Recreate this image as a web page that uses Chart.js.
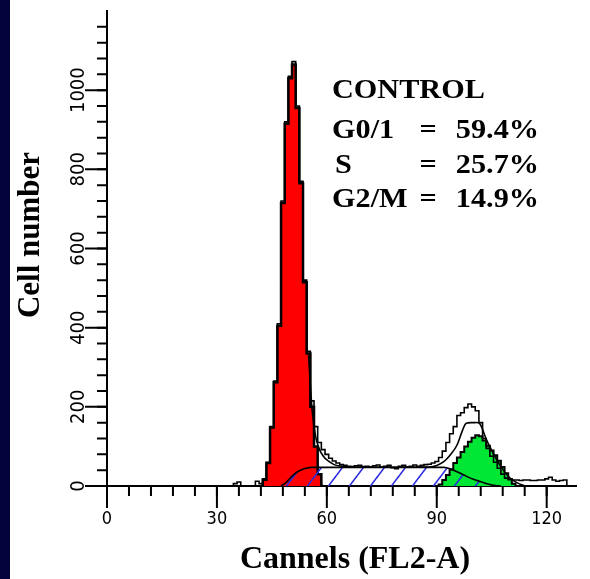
<!DOCTYPE html>
<html>
<head>
<meta charset="utf-8">
<script src="https://cdn.jsdelivr.net/npm/chart.js@4.4.0/dist/chart.umd.min.js"></script>
<style>
  html, body { margin: 0; padding: 0; background: #fff; }
  #wrap { position: relative; width: 590px; height: 579px; }
  #strip { position: absolute; left: 0; top: 0; width: 10px; height: 579px; background: #04043a; }
</style>
</head>
<body>
<div id="wrap">
  <canvas id="chart" width="590" height="579"></canvas>
  <div id="strip"></div>
</div>
<script>
// total histogram (channel -> cell count)
const dataCh = [0, 34, 35, 36, 37, 40, 41, 42,
  43, 44, 45, 46, 47, 48, 49, 50, 51, 52, 53, 54, 55, 56, 57, 58, 59, 60,
  61, 62, 63, 64, 65, 66, 67, 68, 69, 70, 71, 72, 73, 74, 75, 76, 77, 78, 79, 80,
  81, 82, 83, 84, 85, 86, 87, 88, 89, 90, 91, 92, 93, 94, 95, 96, 97, 98, 99, 100,
  101, 102, 103, 104, 105, 106, 107, 108, 109, 110, 111, 112, 113, 114, 115, 116, 117, 118, 119, 120,
  121, 122, 123, 124, 125, 126];
const dataCount = [0, 0, 6, 10, 0, 0, 12, 6,
  18, 60, 150, 265, 410, 720, 920, 1035, 1072, 960, 770, 520, 340, 215, 150, 110, 92, 80,
  70, 63, 58, 54, 52, 50, 49, 51, 52, 49, 50, 48, 51, 53, 48, 50, 52, 46, 44, 50,
  52, 48, 50, 53, 50, 52, 54, 55, 58, 62, 72, 88, 110, 132, 150, 178, 185, 198, 207, 200,
  190, 160, 120, 95, 75, 60, 45, 30, 20, 16, 15, 15, 14, 15, 15, 14, 14, 15, 15, 18,
  22, 15, 12, 14, 15, 0];

// G0/G1 fit (red)
const g1Ch = [42, 43, 44, 45, 46, 47, 48, 49, 50, 51, 52, 53, 54, 55, 56, 57, 58, 59];
const g1Count = [0, 16, 58, 148, 262, 405, 715, 915, 1030, 1065, 955, 765, 515, 335, 200, 100, 30, 0];

// S phase fit (hatched)
const sCh = [47.5, 49, 50.5, 52, 54, 56, 92, 94, 96, 98, 100, 102, 104, 106, 107.5];
const sCount = [0, 10, 25, 36, 44, 47, 47, 42, 34, 25, 17, 11, 5, 1, 0];

// G2/M fit (green)
const g2Ch = [90, 91, 92, 93, 94, 95, 96, 97, 98, 99, 100, 101, 102, 103, 104, 105, 106, 107, 108, 109, 110, 111, 112];
const g2Count = [0, 4, 15, 28, 42, 58, 72, 86, 100, 112, 122, 128, 126, 115, 102, 90, 78, 64, 48, 32, 18, 6, 0];

// summed model curve
const fitCh = [55, 56, 57, 58, 59, 60, 62, 64, 66, 88, 90, 92, 94, 95.5, 97, 98, 100, 101.7, 103.6, 106.4, 108, 110, 112, 114];
const fitCount = [330, 190, 122, 92, 76, 66, 54, 50, 48, 48, 52, 62, 82, 103, 140, 158, 160, 158, 116, 66, 42, 20, 8, 0];

// labelled tick values
const xLabelled = [0, 30, 60, 90, 120];
const yLabelled = [0, 200, 400, 600, 800, 1000];

const xTitle = 'Cannels (FL2-A)';
const yTitle = 'Cell number';
const boxTitle = 'CONTROL';
const phaseNames = ['G0/1', 'S', 'G2/M'];
const phaseValues = ['59.4%', '25.7%', '14.9%'];

const pts = (xs, ys) => xs.map((x, i) => ({ x: x, y: ys[i] }));

function hatch() {
  const c = document.createElement('canvas');
  c.width = 21; c.height = 28;
  const g = c.getContext('2d');
  g.strokeStyle = '#2b2be0';
  g.lineWidth = 1.6;
  [-21, 0, 21].forEach(dx => {
    g.beginPath();
    g.moveTo(dx - 1, 29.33);
    g.lineTo(dx + 22, -1.33);
    g.stroke();
  });
  return g.createPattern(c, 'repeat');
}

const tickFamily = '"DejaVu Sans Condensed", "DejaVu Sans", sans-serif';
const serif = '"Liberation Serif", "Times New Roman", serif';

const extras = {
  id: 'extras',
  afterDraw(chart) {
    const ctx = chart.ctx;
    const xs = chart.scales.x, ys = chart.scales.y;
    const x0 = xs.top, y0 = ys.right;
    ctx.save();
    ctx.strokeStyle = '#000';
    ctx.lineWidth = 2;
    // short ticks
    ctx.beginPath();
    xs.ticks.forEach(t => {
      const p = xs.getPixelForValue(t.value);
      ctx.moveTo(p, x0); ctx.lineTo(p, x0 + 10);
    });
    ys.ticks.forEach(t => {
      const p = ys.getPixelForValue(t.value);
      ctx.moveTo(y0, p); ctx.lineTo(y0 - 10, p);
    });
    ctx.stroke();
    // long ticks at the labelled values
    ctx.beginPath();
    xLabelled.forEach(v => {
      const p = xs.getPixelForValue(v);
      ctx.moveTo(p, x0); ctx.lineTo(p, x0 + 22);
    });
    yLabelled.forEach(v => {
      const p = ys.getPixelForValue(v);
      ctx.moveTo(y0, p); ctx.lineTo(y0 - 22, p);
    });
    ctx.stroke();

    ctx.fillStyle = '#000';
    ctx.textBaseline = 'alphabetic';
    // axis titles
    ctx.font = 'bold 32px ' + serif;
    ctx.textAlign = 'center';
    ctx.fillText(xTitle, 355, 568);
    ctx.save();
    ctx.translate(39, 235);
    ctx.rotate(-Math.PI / 2);
    ctx.font = 'bold 31px ' + serif;
    ctx.fillText(yTitle, 0, 0);
    ctx.restore();

    // result box
    ctx.font = 'bold 27px ' + serif;
    const put = (txt, x, y, align) => {
      ctx.save();
      ctx.translate(x, y);
      ctx.scale(1.12, 1);
      ctx.textAlign = align;
      ctx.fillText(txt, 0, 0);
      ctx.restore();
    };
    put(boxTitle, 332, 98, 'left');
    const rows = [138, 173, 207];
    phaseNames.forEach((n, i) => {
      put(n, i === 1 ? 335 : 332, rows[i], 'left');
      put('=', 428, rows[i], 'center');
      put(phaseValues[i], 539, rows[i], 'right');
    });
    ctx.restore();
  }
};

new Chart(document.getElementById('chart').getContext('2d'), {
  type: 'line',
  data: {
    datasets: [
      {
        label: 'data',
        data: pts(dataCh, dataCount),
        stepped: 'middle',
        borderColor: '#000',
        borderWidth: 1.6,
        fill: false,
        pointRadius: 0,
        order: 1
      },
      {
        label: 'fit',
        data: pts(fitCh, fitCount),
        borderColor: '#000',
        borderWidth: 1.6,
        tension: 0.3,
        fill: false,
        pointRadius: 0,
        order: 2
      },
      {
        label: 'S',
        data: pts(sCh, sCount),
        borderColor: '#000',
        borderWidth: 1.6,
        backgroundColor: hatch(),
        cubicInterpolationMode: 'monotone',
        fill: 'origin',
        pointRadius: 0,
        order: 3
      },
      {
        label: 'G0/1',
        data: pts(g1Ch, g1Count),
        stepped: 'middle',
        borderColor: '#000',
        borderWidth: 2.5,
        backgroundColor: '#ff0000',
        fill: 'origin',
        pointRadius: 0,
        order: 4
      },
      {
        label: 'G2/M',
        data: pts(g2Ch, g2Count),
        stepped: 'middle',
        borderColor: '#000',
        borderWidth: 2,
        backgroundColor: '#00e634',
        fill: 'origin',
        pointRadius: 0,
        order: 5
      }
    ]
  },
  options: {
    responsive: false,
    animation: false,
    layout: { padding: { top: 11, right: 14, left: 0, bottom: 0 } },
    plugins: {
      legend: { display: false },
      tooltip: { enabled: false }
    },
    scales: {
      x: {
        type: 'linear',
        min: 0,
        max: 128,
        afterFit: s => { s.height = 93; },
        afterBuildTicks: s => { s.ticks = s.ticks.filter(t => t.value % 6 === 0); },
        border: { display: true, color: '#000', width: 2 },
        grid: {
          drawOnChartArea: false,
          tickLength: 22,
          tickColor: 'rgba(0,0,0,0)'
        },
        ticks: {
          stepSize: 6,
          autoSkip: false,
          maxRotation: 0,
          padding: 1,
          color: '#000',
          font: { family: tickFamily, size: 18 },
          callback: v => (xLabelled.includes(v) ? String(v) : '')
        }
      },
      y: {
        min: 0,
        max: 1200,
        afterFit: s => { s.width = 107; },
        afterBuildTicks: s => { s.ticks = s.ticks.filter(t => t.value % 40 === 0 && t.value < 1200); },
        border: { display: true, color: '#000', width: 2 },
        grid: {
          drawOnChartArea: false,
          tickLength: 22,
          tickColor: 'rgba(0,0,0,0)'
        },
        ticks: {
          stepSize: 40,
          autoSkip: false,
          minRotation: 90,
          maxRotation: 90,
          crossAlign: 'center',
          padding: -17,
          color: '#000',
          font: { family: tickFamily, size: 20 },
          callback: v => (yLabelled.includes(v) ? String(v) : '')
        }
      }
    }
  },
  plugins: [extras]
});
</script>
</body>
</html>
